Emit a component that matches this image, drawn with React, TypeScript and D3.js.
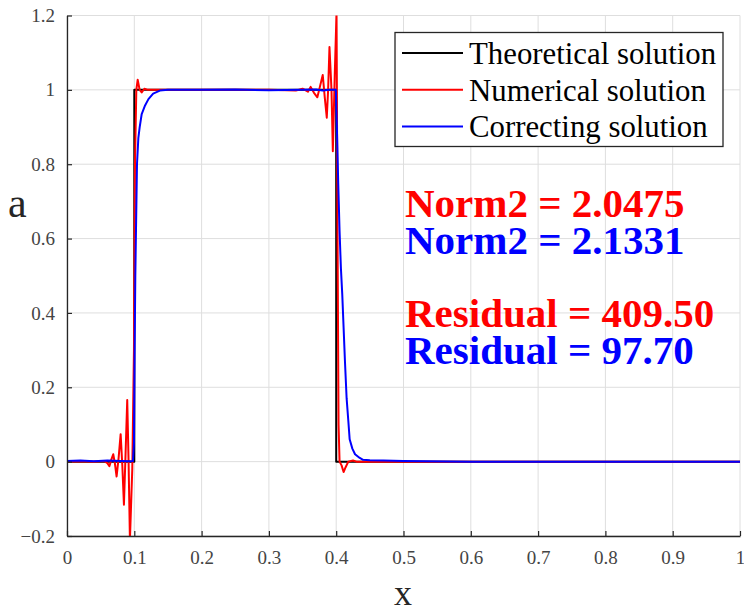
import React, { useEffect, useRef } from 'react';
import * as d3 from 'd3';

// Theoretical solution (step)
const theoX = [0, 0.1, 0.1, 0.4, 0.4, 1];
const theoY = [0, 0, 1, 1, 0, 0];

// Numerical solution (red)
const numX = [0, 0.02, 0.04, 0.055, 0.06, 0.063, 0.066, 0.0687, 0.0712, 0.0737, 0.0767, 0.0797, 0.0822, 0.0846, 0.087, 0.0895, 0.0915, 0.0935, 0.097, 0.0995, 0.101, 0.103, 0.105, 0.108, 0.111, 0.115, 0.12, 0.15, 0.2, 0.25, 0.3, 0.34, 0.35, 0.358, 0.362, 0.367, 0.372, 0.376, 0.38, 0.383, 0.386, 0.388, 0.39, 0.393, 0.395, 0.398, 0.4005, 0.402, 0.4035, 0.405, 0.408, 0.411, 0.414, 0.418, 0.425, 0.43, 0.5, 0.6, 0.8, 1];
const numY = [0, 0.001, 0, 0.002, -0.004, -0.012, 0.006, 0.02, -0.005, -0.04, 0.01, 0.074, -0.01, -0.116, 0.02, 0.166, 0, -0.21, -0.02, 0.3, 0.8, 1.0, 1.027, 1.0, 0.993, 1.003, 1.0, 1.0, 1.0, 1.0, 1.0, 0.998, 1.003, 0.995, 1.008, 0.992, 0.98, 1.01, 1.04, 0.98, 0.925, 1.0, 1.115, 1.0, 0.835, 1.05, 1.21, 0.6, 0.1, 0.0, -0.01, -0.028, -0.015, 0.0, 0.003, 0, 0, 0, 0, 0];

// Correcting solution (blue)
const corrX = [0, 0.02, 0.04, 0.06, 0.08, 0.095, 0.098, 0.0995, 0.1005, 0.1015, 0.1025, 0.104, 0.106, 0.108, 0.111, 0.116, 0.121, 0.128, 0.138, 0.15, 0.2, 0.25, 0.3, 0.35, 0.37, 0.38, 0.39, 0.3995, 0.401, 0.403, 0.405, 0.407, 0.409, 0.411, 0.413, 0.4155, 0.418, 0.42, 0.424, 0.428, 0.435, 0.44, 0.45, 0.47, 0.5, 0.6, 0.8, 1];
const corrY = [0.002, 0.003, 0.001, 0.003, 0.002, 0.001, 0.002, 0.05, 0.3, 0.5, 0.62, 0.8, 0.87, 0.9, 0.935, 0.958, 0.975, 0.99, 0.998, 1.0, 1.0, 1.001, 0.999, 1.0, 1.001, 0.998, 1.0, 1.0, 0.9, 0.75, 0.62, 0.52, 0.45, 0.36, 0.27, 0.17, 0.11, 0.06, 0.035, 0.02, 0.01, 0.005, 0.004, 0.003, 0.002, 0, 0, 0];

const xTicks = [0, 0.1, 0.2, 0.3, 0.4, 0.5, 0.6, 0.7, 0.8, 0.9, 1];
const yTicks = [-0.2, 0, 0.2, 0.4, 0.6, 0.8, 1, 1.2];

const legendLabels = ['Theoretical solution', 'Numerical solution', 'Correcting solution'];
const legendColors = ['#000000', '#ff0000', '#0000ff'];

const noteTexts = ['Norm2 = 2.0475', 'Norm2 = 2.1331', 'Residual = 409.50', 'Residual = 97.70'];
const noteColors = ['#ff0000', '#0000ff', '#ff0000', '#0000ff'];

const W = 744;
const H = 614;
const SERIF = "'Liberation Serif', 'Times New Roman', Tinos, 'DejaVu Serif', serif";

const App = () => {
  const ref = useRef<SVGSVGElement | null>(null);

  useEffect(() => {
    const svg = d3.select(ref.current);
    svg.selectAll('*').remove();

    const left = 67, right = 740, top = 15.5, bottom = 536;
    const x = d3.scaleLinear().domain([0, 1]).range([left, right]);
    const y = d3.scaleLinear().domain([-0.2, 1.2]).range([bottom, top]);

    svg.append('rect').attr('width', W).attr('height', H).attr('fill', '#fff');

    // grid
    svg.append('g')
      .selectAll('line')
      .data(xTicks)
      .enter()
      .append('line')
      .attr('x1', d => x(d)).attr('x2', d => x(d))
      .attr('y1', top).attr('y2', bottom)
      .attr('stroke', '#dedede').attr('stroke-width', 1);
    svg.append('g')
      .selectAll('line')
      .data(yTicks)
      .enter()
      .append('line')
      .attr('y1', d => y(d)).attr('y2', d => y(d))
      .attr('x1', left).attr('x2', right)
      .attr('stroke', '#dedede').attr('stroke-width', 1);

    // clip
    svg.append('clipPath').attr('id', 'plotclip')
      .append('rect')
      .attr('x', left).attr('y', top)
      .attr('width', right - left).attr('height', bottom - top);

    const line = d3.line<[number, number]>()
      .x(d => x(d[0]))
      .y(d => y(d[1]));

    const series = [
      { xs: theoX, ys: theoY, color: legendColors[0] },
      { xs: numX, ys: numY, color: legendColors[1] },
      { xs: corrX, ys: corrY, color: legendColors[2] },
    ];
    const plot = svg.append('g').attr('clip-path', 'url(#plotclip)');
    series.forEach(s => {
      plot.append('path')
        .attr('d', line(s.xs.map((v, i) => [v, s.ys[i]] as [number, number])))
        .attr('fill', 'none')
        .attr('stroke', s.color)
        .attr('stroke-width', 2)
        .attr('stroke-linejoin', 'round');
    });

    // axes
    const fmt = (d: d3.NumberValue) => d3.format('~g')(+d);
    const xAxis = svg.append('g')
      .attr('transform', `translate(0,${bottom})`)
      .call(d3.axisBottom(x).tickValues(xTicks).tickSizeInner(-5).tickSizeOuter(0).tickPadding(15).tickFormat(fmt));
    const yAxis = svg.append('g')
      .attr('transform', `translate(${left},0)`)
      .call(d3.axisLeft(y).tickValues(yTicks).tickSizeInner(-5).tickSizeOuter(0).tickPadding(12).tickFormat(fmt));
    [xAxis, yAxis].forEach(a => {
      a.attr('font-family', null).attr('font-size', null);
      a.select('.domain').attr('stroke', '#262626').attr('stroke-width', 1.3);
      a.selectAll('.tick line').attr('stroke', '#262626').attr('stroke-width', 1.2);
      a.selectAll('.tick text')
        .style('font-family', SERIF)
        .style('font-size', '19px')
        .attr('fill', '#444');
    });

    // axis labels
    svg.append('text')
      .attr('x', 403).attr('y', 605)
      .attr('text-anchor', 'middle')
      .style('font-family', SERIF)
      .style('font-size', '36px')
      .attr('fill', '#262626')
      .text('x');
    svg.append('text')
      .attr('x', 8).attr('y', 217)
      .style('font-family', SERIF)
      .style('font-size', '42px')
      .attr('fill', '#262626')
      .text('a');

    // legend
    const lg = svg.append('g');
    lg.append('rect')
      .attr('x', 395).attr('y', 32.5)
      .attr('width', 328).attr('height', 114)
      .attr('fill', '#fff').attr('stroke', '#262626').attr('stroke-width', 1.3);
    legendLabels.forEach((label, i) => {
      const cy = 53 + i * 36.7;
      lg.append('line')
        .attr('x1', 402).attr('x2', 463)
        .attr('y1', cy).attr('y2', cy)
        .attr('stroke', legendColors[i]).attr('stroke-width', 2);
      lg.append('text')
        .attr('x', 469).attr('y', cy + 11)
        .style('font-family', SERIF)
        .style('font-size', '30.8px')
        .attr('fill', '#000')
        .text(label);
    });

    // norms and residuals
    const baselines = [216.5, 253.5, 326.5, 364];
    noteTexts.forEach((t, i) => {
      svg.append('text')
        .attr('x', 405).attr('y', baselines[i])
        .style('font-family', SERIF)
        .style('font-weight', 'bold')
        .style('font-size', '41px')
        .attr('fill', noteColors[i])
        .text(t);
    });
  }, []);

  return (
    <svg ref={ref} width={W} height={H} style={{ position: 'absolute', left: 0, top: 0 }} />
  );
};

export default App;
